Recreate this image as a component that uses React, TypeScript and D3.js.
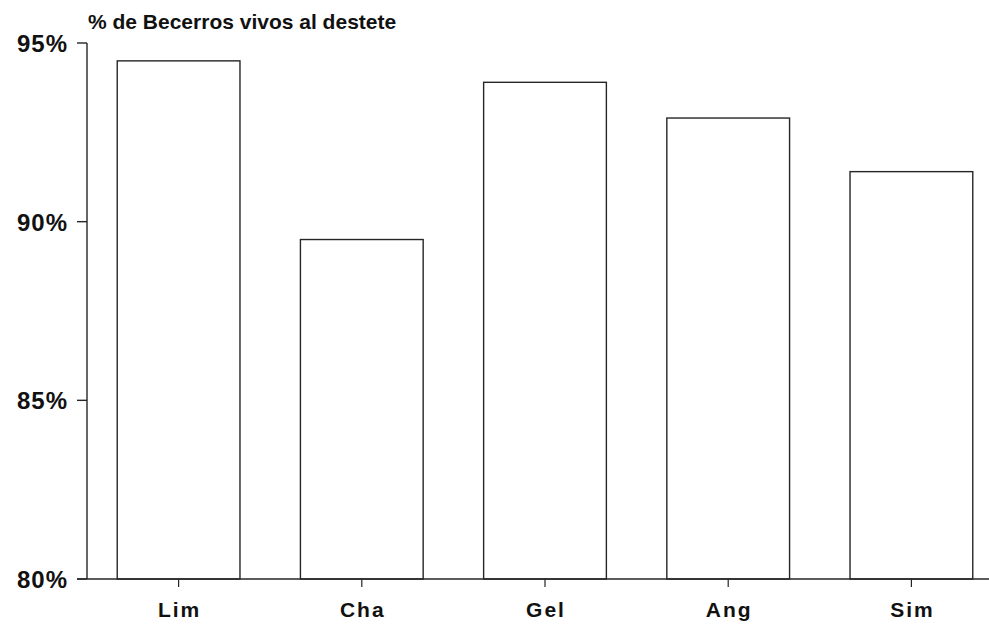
import React from "react";
import * as d3 from "d3";

const breeds = ["Lim", "Cha", "Gel", "Ang", "Sim"];
const weanedAlive = [94.5, 89.5, 93.9, 92.9, 91.4];
const yTicks = [80, 85, 90, 95];
const title = "% de Becerros vivos al destete";

const width = 989;
const height = 627;

const App = () => {
  const stageRef = React.useRef<SVGSVGElement>(null);

  React.useEffect(() => {
    const svg = d3.select(stageRef.current);
    svg.selectAll("*").remove();

    const ink = "#262626";
    const axisX = 87;
    const baseY = 579;

    const xScale = d3
      .scaleBand()
      .domain(breeds)
      .range([axisX, 1003])
      .paddingInner(0.33)
      .paddingOuter(0.165);

    const yScale = d3.scaleLinear().domain([80, 95]).range([baseY, 43]);

    const data = breeds.map((b, i) => ({ breed: b, value: weanedAlive[i] }));

    // bars, outline only
    svg
      .append("g")
      .selectAll("rect")
      .data(data)
      .join("rect")
      .attr("x", d => xScale(d.breed))
      .attr("y", d => yScale(d.value))
      .attr("width", xScale.bandwidth())
      .attr("height", d => baseY - yScale(d.value))
      .attr("fill", "#fff")
      .attr("stroke", ink)
      .attr("stroke-width", 1.4);

    // y axis
    const yAxis = svg.append("g");
    yAxis
      .append("line")
      .attr("x1", axisX)
      .attr("x2", axisX)
      .attr("y1", yScale(95))
      .attr("y2", baseY)
      .attr("stroke", ink)
      .attr("stroke-width", 1.4);
    yAxis
      .selectAll("line.tick")
      .data(yTicks)
      .join("line")
      .attr("class", "tick")
      .attr("x1", axisX - 10)
      .attr("x2", axisX)
      .attr("y1", d => yScale(d))
      .attr("y2", d => yScale(d))
      .attr("stroke", ink)
      .attr("stroke-width", 1.4);
    yAxis
      .selectAll("text")
      .data(yTicks)
      .join("text")
      .attr("x", 68)
      .attr("y", d => yScale(d) + 9)
      .attr("text-anchor", "end")
      .style("font-family", "'Liberation Sans', Arial, sans-serif")
      .style("font-weight", "700")
      .style("font-size", "24px")
      .style("letter-spacing", "1px")
      .attr("fill", "#111")
      .text(d => d + "%");

    // x axis
    const xAxis = svg.append("g");
    xAxis
      .append("line")
      .attr("x1", axisX - 10)
      .attr("x2", width)
      .attr("y1", baseY)
      .attr("y2", baseY)
      .attr("stroke", ink)
      .attr("stroke-width", 1.4);
    xAxis
      .selectAll("line.tick")
      .data(breeds)
      .join("line")
      .attr("class", "tick")
      .attr("x1", d => xScale(d) + xScale.bandwidth() / 2)
      .attr("x2", d => xScale(d) + xScale.bandwidth() / 2)
      .attr("y1", baseY)
      .attr("y2", baseY + 8)
      .attr("stroke", ink)
      .attr("stroke-width", 1.2);
    xAxis
      .selectAll("text")
      .data(breeds)
      .join("text")
      .attr("x", d => xScale(d) + xScale.bandwidth() / 2 + 1)
      .attr("y", 617)
      .attr("text-anchor", "middle")
      .style("font-family", "'Liberation Sans', Arial, sans-serif")
      .style("font-weight", "700")
      .style("font-size", "21px")
      .style("letter-spacing", "2px")
      .attr("fill", "#111")
      .text(d => d);

    // title
    svg
      .append("text")
      .attr("x", 88)
      .attr("y", 29)
      .style("font-family", "'Liberation Sans', Arial, sans-serif")
      .style("font-weight", "700")
      .style("font-size", "21px")
      .attr("fill", "#111")
      .text(title);
  }, []);

  return (
    <div style={{ position: "absolute", left: 0, top: 0 }}>
      <svg width={width} height={height} ref={stageRef} style={{ display: "block", background: "#fff" }} />
    </div>
  );
};

export default App;
